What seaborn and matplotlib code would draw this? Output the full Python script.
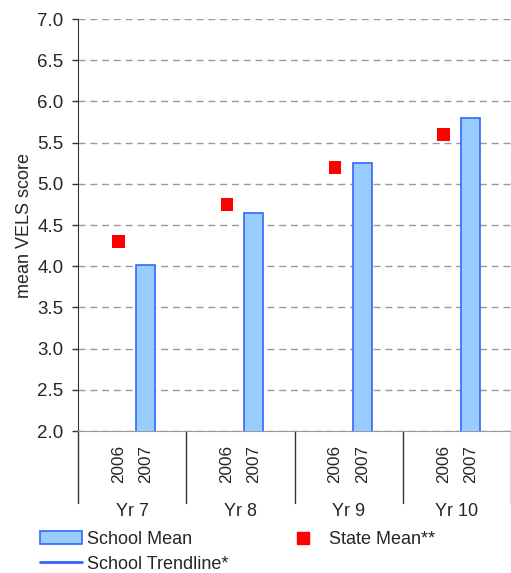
import numpy as np
import pandas as pd
import seaborn as sns
import matplotlib.pyplot as plt
from matplotlib.patches import Patch
from matplotlib.lines import Line2D

# values
groups = ['Yr 7', 'Yr 8', 'Yr 9', 'Yr 10']
years = ['2006', '2007']
school_mean_2007 = [4.02, 4.65, 5.25, 5.80]
state_mean_2006 = [4.30, 4.75, 5.20, 5.60]

sns.set_style('white')
plt.rcParams['font.family'] = ['Liberation Sans', 'DejaVu Sans']

bar_fill = '#99CCFF'
bar_edge = '#3366FF'

rows = []
for i, g in enumerate(groups):
    rows.append({'pos': i, 'Year': '2006', 'School Mean': np.nan})
    rows.append({'pos': i, 'Year': '2007', 'School Mean': school_mean_2007[i]})
data = pd.DataFrame(rows)

fig = plt.figure(figsize=(5.11, 5.73), dpi=100)
ax = fig.add_axes([78 / 511, 1 - 431 / 573, 1 - 78 / 511, (431 - 19) / 573])

sns.barplot(data=data, x='pos', y='School Mean', hue='Year', hue_order=years,
            palette=[bar_fill, bar_fill], saturation=1, edgecolor=bar_edge,
            linewidth=1.2, width=0.5, gap=0.3, errorbar=None, legend=False,
            ax=ax, zorder=3)

offset = 0.125
state_x = np.arange(len(groups)) - offset
sns.scatterplot(x=state_x, y=state_mean_2006, marker='s', color='#FF0000',
                s=80, edgecolor='none', ax=ax, zorder=4)

ax.set_xlim(-0.5, len(groups) - 0.5)
ax.set_ylim(2.0, 7.0)
ticks = np.arange(2.0, 7.01, 0.5)
ax.set_yticks(ticks)
ax.set_yticklabels([f'{v:.1f}' for v in ticks], fontsize=13.5)
ax.yaxis.grid(True, color='#999999', linestyle=(0, (5, 3.5)), linewidth=1)
ax.set_axisbelow(True)
ax.tick_params(axis='y', left=True, length=4.3, width=1, color='#333333', pad=6)
ax.set_ylabel('mean VELS score', fontsize=13, labelpad=3)
ax.set_xlabel('')

# year tick labels under the bars
xt = []
xl = []
for i in range(len(groups)):
    xt += [i - offset, i + offset]
    xl += years
ax.set_xticks(xt)
ax.set_xticklabels(xl, rotation=90, fontsize=12.3)
ax.tick_params(axis='x', bottom=False, length=0, pad=10)

for s in ['top', 'right']:
    ax.spines[s].set_visible(False)
ax.spines['left'].set_color('#333333')
ax.spines['bottom'].set_color('#999999')

# group separators and group labels
trans = ax.get_xaxis_transform()
sep_bottom = -(503 - 431) / 412
for b in np.arange(-0.5, len(groups) - 0.4, 1.0):
    ax.plot([b, b], [0, sep_bottom], transform=trans, color='#333333',
            linewidth=1, clip_on=False)
for i, g in enumerate(groups):
    ax.text(i, -(511 - 431) / 412, g, transform=trans, ha='center',
            va='center', fontsize=13)

h_mean = Patch(facecolor=bar_fill, edgecolor=bar_edge, linewidth=1.2, label='School Mean')
h_trend = Line2D([0], [0], color=bar_edge, linewidth=2, label='School Trendline*')
h_state = Line2D([0], [0], marker='s', color='#FF0000', linestyle='none',
                 markersize=8.5, label='State Mean**')

leg1 = fig.legend(handles=[h_mean, h_trend], loc='upper left',
                  bbox_to_anchor=(40 / 511, 1 - 531 / 573), frameon=False,
                  fontsize=13, handlelength=2.3, labelspacing=0.42,
                  handletextpad=0.3, borderaxespad=0, borderpad=0)
leg2 = fig.legend(handles=[h_state], loc='upper left',
                  bbox_to_anchor=(282 / 511, 1 - 531 / 573), frameon=False,
                  fontsize=13, handlelength=2.3, handletextpad=0.3,
                  borderaxespad=0, borderpad=0)

fig.savefig('out.png', dpi=100)
